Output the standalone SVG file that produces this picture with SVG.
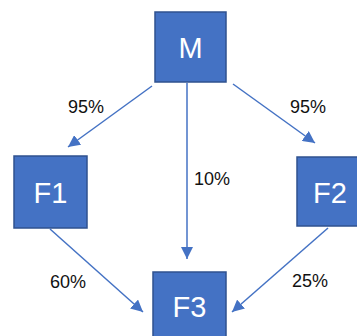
<svg xmlns="http://www.w3.org/2000/svg" width="357" height="336" viewBox="0 0 357 336">
<style>
.box{fill:#4472C4;stroke:#2F528F;stroke-width:1.5}
.nt{font-family:"Liberation Sans",Arial,sans-serif;font-size:29px;fill:#fff;text-anchor:middle}
.lbl{font-family:"Liberation Sans",Arial,sans-serif;font-size:18px;fill:#111;text-anchor:middle}
.edge{stroke:#4472C4;stroke-width:1.5;fill:none;marker-end:url(#ah)}
</style>
<defs>
<marker id="ah" markerUnits="userSpaceOnUse" markerWidth="12" markerHeight="12" viewBox="0 0 12 12" refX="12" refY="6" orient="auto">
<path d="M0,0 L12,6 L0,12 z" fill="#4472C4"/>
</marker>
</defs>
<rect width="357" height="336" fill="#fff"/>
<g id="connectors">
<line class="edge" x1="152" y1="86" x2="68" y2="147"/>
<line class="edge" x1="233" y1="84" x2="315" y2="143"/>
<line class="edge" x1="187" y1="83" x2="187" y2="259"/>
<line class="edge" x1="50" y1="229" x2="143" y2="312"/>
<line class="edge" x1="328" y1="228" x2="232" y2="312"/>
</g>
<g id="labels">
<text class="lbl" x="86" y="113">95%</text>
<text class="lbl" x="308" y="113">95%</text>
<text class="lbl" x="212" y="185">10%</text>
<text class="lbl" x="68" y="288">60%</text>
<text class="lbl" x="310" y="287">25%</text>
</g>
<g id="M">
<rect class="box" x="155" y="12" width="71" height="70"/>
<text class="nt" x="190.5" y="58">M</text>
</g>
<g id="F1">
<rect class="box" x="14" y="156" width="73" height="72"/>
<text class="nt" x="50.5" y="203">F1</text>
</g>
<g id="F2">
<rect class="box" x="297" y="157" width="71" height="69"/>
<text class="nt" x="330" y="203">F2</text>
</g>
<g id="F3">
<rect class="box" x="153" y="272" width="73" height="72"/>
<text class="nt" x="189.5" y="317">F3</text>
</g>
</svg>
